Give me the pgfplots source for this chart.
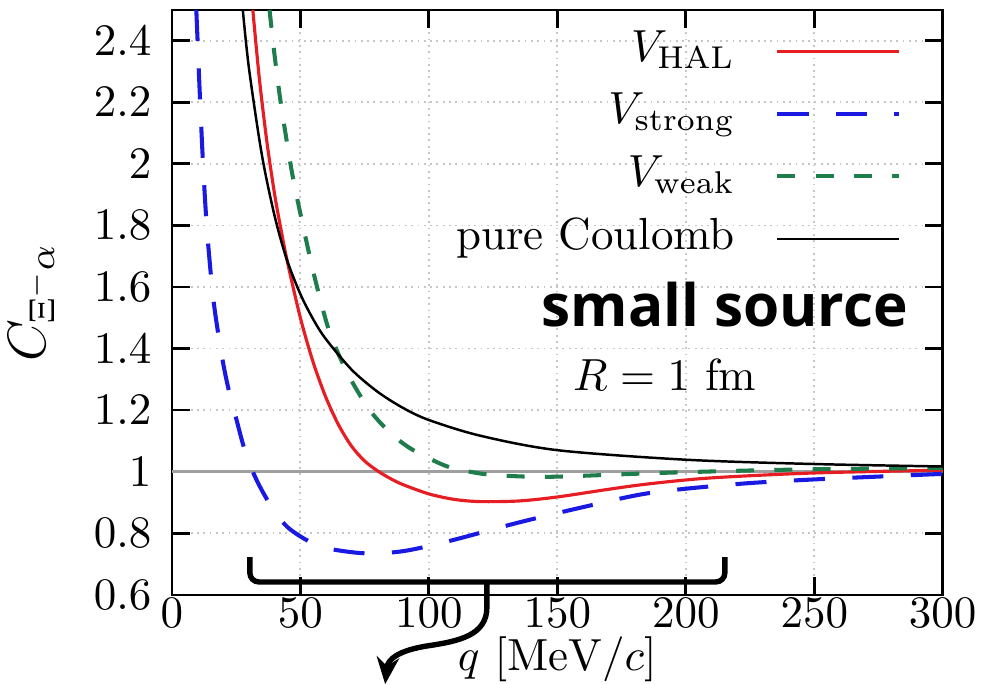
\documentclass[border=0pt]{standalone}
\usepackage{fontspec}
\usepackage{pgfplots}
\pgfplotsset{compat=1.18}
\usetikzlibrary{arrows.meta}
\newfontfamily\boldsans{Open Sans}
\definecolor{cred}{RGB}{230,30,35}
\definecolor{cblue}{RGB}{25,25,225}
\definecolor{cgreen}{RGB}{30,125,75}
\begin{document}
\begin{tikzpicture}
\begin{axis}[
  at={(0,0)}, anchor=south west,
  scale only axis, width=171.3pt, height=130pt,
  xmin=0, xmax=300, ymin=0.6, ymax=2.5,
  xtick={0,50,100,150,200,250,300},
  ytick={0.6,0.8,1,1.2,1.4,1.6,1.8,2,2.2,2.4},
  grid=major, major grid style={densely dotted, gray!45, line width=0.4pt},
  tick align=inside, major tick length=4pt,
  axis line style={line width=0.6pt},
  every tick/.style={black, line width=0.6pt},
  xticklabel shift=-2.7pt,
  yticklabel shift=1pt,
  xlabel shift=-4.8pt,
  ylabel shift=2pt,
  xlabel={$q\ [\mathrm{MeV}/c]$},
  ylabel={$C_{\Xi^-\alpha}$},
  ylabel style={font=\large},
  clip mode=individual,
  legend style={draw=none, fill=none, at={(0.947,0.975)}, anchor=north east, inner sep=0pt, legend cell align=right, row sep=2.4pt, font=\normalsize,
    nodes={inner sep=0pt, text height=8pt, text depth=3.5pt},
    /tikz/every odd column/.append style={column sep=9pt}},
  legend plot pos=right,
  legend image code/.code={\draw[#1] (0pt,0pt) -- (27pt,0pt);},
]
\addplot[gray!75, line width=0.6pt, forget plot] coordinates {(0,1) (300,1)};
\addplot[cred, line width=0.7pt, smooth] coordinates {
(31.5,2.5) (34,2.28) (37,2.07) (40,1.90) (42.5,1.785) (45,1.68) (50,1.50) (55,1.355) (60,1.24) (65,1.15) (70,1.082) (75,1.035) (80,1.003) (85,0.978) (90,0.958) (100,0.928) (110,0.91) (120,0.903) (135,0.905) (150,0.918) (170,0.943) (186,0.961) (210,0.98) (250,0.996) (300,1.005)};
\addlegendentry{$V_{\mathrm{HAL}}$}
\addplot[cblue, line width=0.9pt, smooth, dash pattern=on 6.9pt off 6.1pt] coordinates {
(9.5,2.5) (10,2.4) (11,2.2) (12,2.02) (13,1.87) (14,1.75) (16,1.57) (18,1.45) (20,1.35) (22,1.27) (24.5,1.19) (28,1.08) (31.5,1.0) (35,0.94) (40,0.87) (45,0.82) (52,0.78) (60,0.752) (75,0.735) (90,0.742) (108,0.775) (134,0.833) (160,0.885) (186,0.931) (220,0.96) (250,0.975) (300,0.993)};
\addlegendentry{$V_{\mathrm{strong}}$}
\addplot[cgreen, line width=0.9pt, smooth, dash pattern=on 4pt off 4.5pt] coordinates {
(38,2.5) (40,2.35) (42,2.22) (44,2.11) (47,1.96) (51,1.80) (55.6,1.63) (61.5,1.45) (69,1.31) (77,1.2) (85,1.126) (92,1.08) (99,1.048) (108,1.015) (121,0.993) (135,0.985) (150,0.984) (186,0.995) (220,1.003) (250,1.008) (300,1.012)};
\addlegendentry{$V_{\mathrm{weak}}$}
\addplot[black, line width=0.55pt, smooth] coordinates {
(27.6,2.5) (30,2.31) (35,2.03) (40,1.83) (44.7,1.69) (50,1.577) (55,1.495) (60,1.43) (70,1.331) (80,1.26) (90,1.207) (100,1.168) (120,1.117) (150,1.07) (200,1.039) (250,1.025) (300,1.017)};
\addlegendentry{pure Coulomb}
\node[font=\boldsans\bfseries\fontsize{13}{15}\selectfont] at (axis cs:215.2,1.542) {small source};
\node at (axis cs:191.8,1.314) {$R = 1\ \mathrm{fm}$};
\draw[line width=1.2pt, rounded corners=2pt] (axis cs:30.35,0.723) -- (axis cs:30.35,0.642) -- (axis cs:215.2,0.642) -- (axis cs:215.2,0.723);
\draw[line width=1.2pt, -{Stealth[length=6pt,width=5pt]}] (axis cs:122.6,0.642) -- (axis cs:122.6,0.56) .. controls (axis cs:122.6,0.47) and (axis cs:112,0.45) .. (axis cs:100,0.435) .. controls (axis cs:88,0.42) and (axis cs:84,0.39) .. (axis cs:83,0.31);
\end{axis}
\pgfresetboundingbox
\path[use as bounding box] (-38.2pt,-20pt) rectangle (179.8pt,132.2pt);
\end{tikzpicture}
\end{document}
